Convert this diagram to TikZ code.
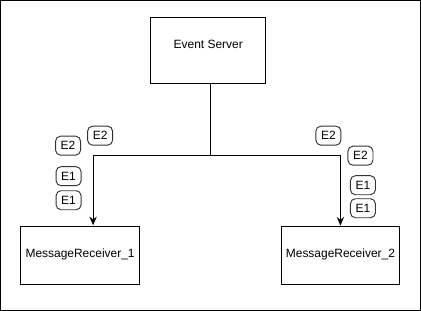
\documentclass[tikz,border=0pt]{standalone}
\usepackage{fontspec}
\setmainfont{Liberation Sans}
\usetikzlibrary{arrows.meta}

\begin{document}
\begin{tikzpicture}[x=0.03cm, y=-0.03cm, line width=0.8pt,
	every node/.style={font=\fontsize{10.2}{12}\selectfont},
	>={Stealth[length=2.6mm, width=2.2mm, inset=0.9mm]},
	unit/.style={draw, minimum width=3.55cm, minimum height=1.75cm, inner sep=0pt},
	event/.style={draw=black!80, rounded corners=1.5mm, minimum width=0.75cm, minimum height=0.57cm, inner sep=0pt}]
	\draw (0.5,0.5) rectangle (420,310);
	\node[unit, minimum width=3.45cm, minimum height=1.98cm] (server) at (208,50.5) {\raisebox{0.36cm}{Event Server}};
	\node[unit] (recv1) at (80,255) {\raisebox{0.12cm}{MessageReceiver\_1}};
	\node[unit] (recv2) at (340,255) {\raisebox{0.12cm}{MessageReceiver\_2}};
	\coordinate (split) at (210,155);
	\coordinate (tap1) at (93,225);
	\draw (server.south -| split) -- (split);
	\draw[->] (split) -| (tap1);
	\draw[->] (split) -| (recv2.north);
	\node[event] (e2a) at (68,145.5) {E2};
	\node[event] (e2b) at (100,135.5) {E2};
	\node[event] (e1a) at (68.5,176) {E1};
	\node[event] (e1b) at (68.5,200) {E1};
	\node[event] (e2c) at (328,135.5) {E2};
	\node[event] (e2d) at (360,155.5) {E2};
	\node[event] (e1c) at (362.5,185) {E1};
	\node[event] (e1d) at (362.5,208) {E1};
\end{tikzpicture}
\end{document}
